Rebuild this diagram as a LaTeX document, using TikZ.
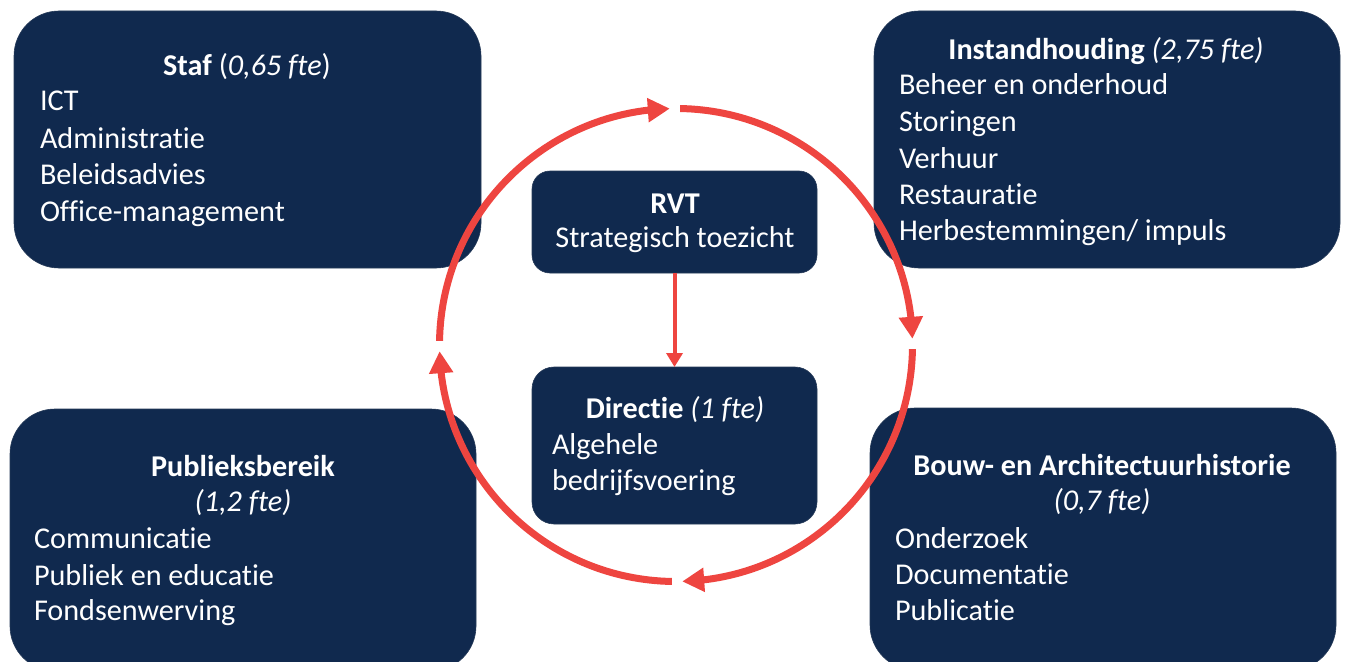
\documentclass[tikz,border=0pt]{standalone}
\usepackage{fontspec}
\setmainfont{Carlito}[Ligatures=NoCommon]
\usetikzlibrary{arrows.meta,bending}
\definecolor{navy}{HTML}{10294E}
\definecolor{ringred}{HTML}{EE4540}
\begin{document}
\begin{tikzpicture}[x=1bp,y=-1bp,
  box/.style={fill=navy, draw=navy!80!gray, line width=0.6bp, inner sep=0pt, outer sep=0pt, anchor=north west},
  txt/.style={text=white, font=\fontsize{30.2bp}{36bp}\selectfont, inner sep=0pt, outer sep=0pt},
  ring/.style={draw=ringred, line width=7bp, -{Triangle[length=22bp,width=23bp]}},
  link/.style={draw=ringred, line width=4bp, -{Triangle[length=14bp,width=16bp]}}]
\useasboundingbox (0,0) rectangle (1348,662);
\clip (0,0) rectangle (1348,662);
% boxes
\node[box, rounded corners=45bp, minimum width=467bp, minimum height=257bp] (staf) at (14,11) {};
\node[box, rounded corners=45bp, minimum width=466bp, minimum height=257bp] (inst) at (874,11) {};
\node[box, rounded corners=45bp, minimum width=466bp, minimum height=262bp] (pub) at (10,409) {};
\node[box, rounded corners=45bp, minimum width=466bp, minimum height=262bp] (bouw) at (870,408) {};
\node[box, rounded corners=18bp, minimum width=285bp, minimum height=102bp] (rvt) at (532,171) {};
\node[box, rounded corners=22bp, minimum width=285bp, minimum height=157bp] (dir) at (532,367) {};
% Staf
\node[txt, anchor=base] (staft) at (247,76) {\textbf{Staf} (\textit{0,65 fte})};
\node[txt, anchor=base west] (staf1) at (40,111) {ICT};
\node[txt, anchor=base west] (staf2) at (40,148) {Administratie};
\node[txt, anchor=base west] (staf3) at (40,184.5) {Beleidsadvies};
\node[txt, anchor=base west] (staf4) at (40,221) {Office-management};
% Instandhouding
\node[txt, anchor=base] (instt) at (1106,60) {\textbf{Instandhouding} \textit{(2,75 fte)}};
\node[txt, anchor=base west] (inst1) at (899,95) {Beheer en onderhoud};
\node[txt, anchor=base west] (inst2) at (899,132) {Storingen};
\node[txt, anchor=base west] (inst3) at (899,168) {Verhuur};
\node[txt, anchor=base west] (inst4) at (899,204) {Restauratie};
\node[txt, anchor=base west] (inst5) at (899,240) {Herbestemmingen/ impuls};
% Publieksbereik
\node[txt, anchor=base] (pubt) at (243,476) {\textbf{Publieksbereik}};
\node[txt, anchor=base] (pubf) at (243,511) {\textit{(1,2 fte)}};
\node[txt, anchor=base west] (pub1) at (34,548) {Communicatie};
\node[txt, anchor=base west] (pub2) at (34,585) {Publiek en educatie};
\node[txt, anchor=base west] (pub3) at (34,620) {Fondsenwerving};
% Bouw
\node[txt, anchor=base] (bouwt) at (1102,475) {\textbf{Bouw- en Architectuurhistorie}};
\node[txt, anchor=base] (bouwf) at (1102,510) {\textit{(0,7 fte)}};
\node[txt, anchor=base west] (bouw1) at (895,548) {Onderzoek};
\node[txt, anchor=base west] (bouw2) at (895,584) {Documentatie};
\node[txt, anchor=base west] (bouw3) at (895,620) {Publicatie};
% RVT
\node[txt, anchor=base] (rvtt) at (675,213) {\textbf{RVT}};
\node[txt, anchor=base] (rvt1) at (675,247) {Strategisch toezicht};
% Directie
\node[txt, anchor=base] (dirt) at (675,418) {\textbf{Directie} \textit{(1 fte)}};
\node[txt, anchor=base west] (dir1) at (552,454) {Algehele};
\node[txt, anchor=base west] (dir2) at (552,490) {bedrijfsvoering};
% connectors
\draw[link] (rvt.south) -- (dir.north);
\coordinate (c) at (676,345);
\draw[ring] (c) ++(-89:236.5) arc[start angle=-89, end angle=-1.5, radius=236.5];
\draw[ring] (c) ++(1:236.5) arc[start angle=1, end angle=88.5, radius=236.5];
\draw[ring] (c) ++(91:236.5) arc[start angle=91, end angle=178.5, radius=236.5];
\draw[ring] (c) ++(181:236.5) arc[start angle=181, end angle=268.5, radius=236.5];
\end{tikzpicture}
\end{document}
